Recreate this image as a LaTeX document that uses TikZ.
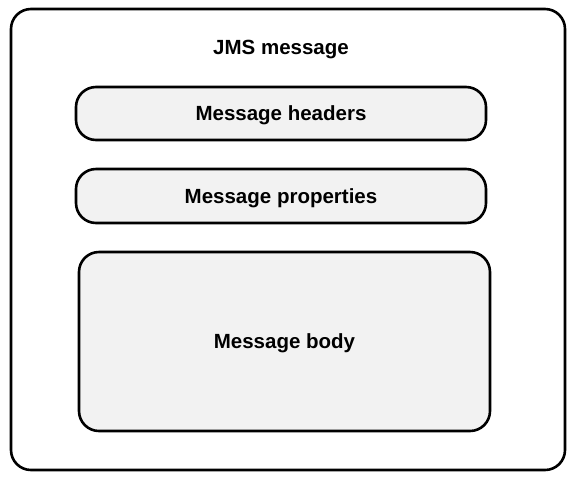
\documentclass[tikz,border=0pt]{standalone}
\usepackage{fontspec}
\setmainfont{Liberation Sans}
\begin{document}
\begin{tikzpicture}[x=1pt,y=-1pt,
  box/.style={draw=black,line width=2.6pt,rounded corners=20pt,fill=#1,inner sep=0pt,text depth=0pt,font=\bfseries\fontsize{20.5}{24}\selectfont},
  box/.default={black!5},
  lbl/.style={inner sep=0pt,text depth=0pt,font=\bfseries\fontsize{20.5}{24}\selectfont}]
\useasboundingbox (0,0) rectangle (572,480);
\node[box=white,minimum width=554pt,minimum height=461pt] (msg) at (288,239.5) {};
\node[lbl] (title) at (281,47) {JMS message};
\node[box,minimum width=410pt,minimum height=53pt] (headers) at (281,113.5) {Message headers};
\node[box,minimum width=410pt,minimum height=54pt] (props) at (281,196) {Message properties};
\node[box,minimum width=411pt,minimum height=179pt] (body) at (284.5,341.5) {Message body};
\end{tikzpicture}
\end{document}
